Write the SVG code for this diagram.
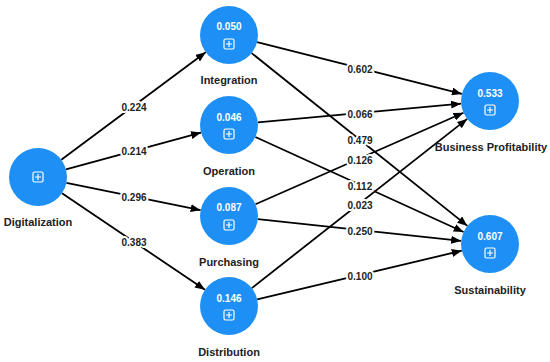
<svg xmlns="http://www.w3.org/2000/svg" width="550" height="362" viewBox="0 0 550 362">
<style>
.node{fill:#1e90f5}
.val{font-family:"Liberation Sans",Arial,sans-serif;font-size:10px;font-weight:bold;fill:#fff;text-anchor:middle}
.lbl{font-family:"Liberation Sans",Arial,sans-serif;font-size:11px;font-weight:bold;fill:#222;text-anchor:middle}
.icon{fill:none;stroke:#fff;stroke-width:1.2}
.edge{stroke:#000;stroke-width:1.8;fill:none;marker-end:url(#arr)}
.elbl{font-family:"Liberation Sans",Arial,sans-serif;font-size:10px;font-weight:bold;fill:#222;text-anchor:middle;stroke:#fff;stroke-width:4;paint-order:stroke;stroke-linejoin:round}
</style>
<defs>
<marker id="arr" markerWidth="10" markerHeight="8" refX="10" refY="4" orient="auto" markerUnits="userSpaceOnUse">
<path d="M0,0 L10,4 L0,8 Z" fill="#000"/>
</marker>
<g id="plus">
<rect x="-5" y="-5" width="10" height="10" rx="1.5" class="icon"/>
<path d="M-3,0 H3 M0,-3 V3" class="icon"/>
</g>
</defs>
<rect width="550" height="362" fill="#fff"/>
<g id="connectors">
<line class="edge" x1="61.3" y1="159.7" x2="205.7" y2="52.3"/>
<line class="edge" x1="66" y1="169.4" x2="201" y2="132.6"/>
<line class="edge" x1="66.4" y1="182.8" x2="200.6" y2="210.2"/>
<line class="edge" x1="62" y1="193.2" x2="205" y2="289.8"/>
<line class="edge" x1="257.1" y1="42.1" x2="461.9" y2="93.9"/>
<line class="edge" x1="251.6" y1="53.1" x2="467.4" y2="225.9"/>
<line class="edge" x1="257.9" y1="122.3" x2="461.1" y2="103.7"/>
<line class="edge" x1="255.4" y1="137" x2="463.6" y2="232"/>
<line class="edge" x1="255.5" y1="204.3" x2="463.5" y2="112.7"/>
<line class="edge" x1="257.8" y1="219.1" x2="461.2" y2="240.9"/>
<line class="edge" x1="251.8" y1="288.1" x2="467.2" y2="118.9"/>
<line class="edge" x1="257.2" y1="299.3" x2="461.8" y2="250.7"/>
<text class="elbl" x="134" y="111">0.224</text>
<text class="elbl" x="134" y="155">0.214</text>
<text class="elbl" x="134" y="201">0.296</text>
<text class="elbl" x="134" y="246">0.383</text>
<text class="elbl" x="360" y="73">0.602</text>
<text class="elbl" x="360" y="144">0.479</text>
<text class="elbl" x="360" y="118">0.066</text>
<text class="elbl" x="360" y="190">0.112</text>
<text class="elbl" x="360" y="164">0.126</text>
<text class="elbl" x="360" y="235">0.250</text>
<text class="elbl" x="360" y="209">0.023</text>
<text class="elbl" x="360" y="280">0.100</text>
</g>
<g id="digitalization">
<circle class="node" cx="38" cy="177" r="29"/>
<use href="#plus" x="38" y="177"/>
<text class="lbl" x="38" y="226">Digitalization</text>
</g>
<g id="integration">
<circle class="node" cx="229" cy="35" r="29"/>
<text class="val" x="229" y="30">0.050</text>
<use href="#plus" x="229" y="44"/>
<text class="lbl" x="229" y="84">Integration</text>
</g>
<g id="operation">
<circle class="node" cx="229" cy="125" r="29"/>
<text class="val" x="229" y="121">0.046</text>
<use href="#plus" x="229" y="134"/>
<text class="lbl" x="229" y="175">Operation</text>
</g>
<g id="purchasing">
<circle class="node" cx="229" cy="216" r="29"/>
<text class="val" x="229" y="211">0.087</text>
<use href="#plus" x="229" y="225"/>
<text class="lbl" x="229" y="266">Purchasing</text>
</g>
<g id="distribution">
<circle class="node" cx="229" cy="306" r="29"/>
<text class="val" x="229" y="302">0.146</text>
<use href="#plus" x="229" y="315"/>
<text class="lbl" x="229" y="356">Distribution</text>
</g>
<g id="business-profitability">
<circle class="node" cx="490" cy="101" r="29"/>
<text class="val" x="490" y="97">0.533</text>
<use href="#plus" x="490" y="110"/>
<text class="lbl" x="491" y="151">Business Profitability</text>
</g>
<g id="sustainability">
<circle class="node" cx="490" cy="244" r="29"/>
<text class="val" x="490" y="240">0.607</text>
<use href="#plus" x="490" y="253"/>
<text class="lbl" x="490" y="294">Sustainability</text>
</g>
</svg>
